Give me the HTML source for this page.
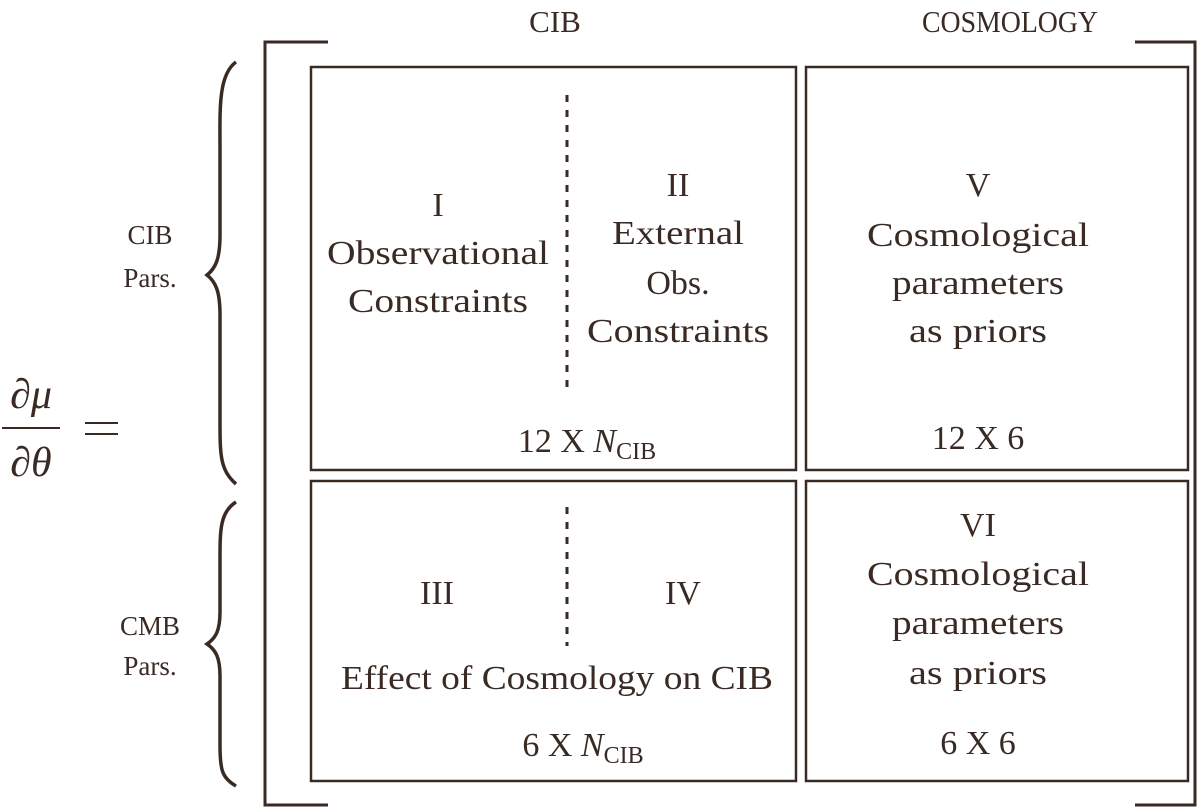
<!DOCTYPE html>
<html><head><meta charset="utf-8"><style>
html,body{margin:0;padding:0;background:#fff;}
svg{display:block;}
text{font-family:"Liberation Serif",serif;fill:#3a2a24;}
</style></head><body>
<svg width="1200" height="808" viewBox="0 0 1200 808" xmlns="http://www.w3.org/2000/svg">
<g fill="none" stroke="#3a2a24">
<path d="M328 42 H265 V805 H328" stroke-width="3"/>
<path d="M1135 42 H1195 V805 H1135" stroke-width="3"/>
<rect x="311" y="67" width="485" height="403" stroke-width="2.5"/>
<rect x="806" y="67" width="382" height="403" stroke-width="2.5"/>
<rect x="311" y="481" width="485" height="300" stroke-width="2.5"/>
<rect x="806" y="481" width="382" height="300" stroke-width="2.5"/>
<line x1="567" y1="95" x2="567" y2="388" stroke-width="3" stroke-dasharray="7,8"/>
<line x1="567" y1="507" x2="567" y2="646" stroke-width="3" stroke-dasharray="7,8"/>
<path d="M236 62 C218 75 220 110 220 150 L220 235 C220 258 216 268 207 275 C216 282 220 292 220 315 L220 420 C220 455 220 470 236 484" stroke-width="3.5"/>
<path d="M236 502 C220 512 220 530 220 560 L220 612 C220 630 216 638 207 644 C216 650 220 658 220 676 L220 745 C220 770 222 778 236 786" stroke-width="3.5"/>
<line x1="2" y1="428" x2="60" y2="428" stroke-width="2"/>
<line x1="85" y1="423" x2="118" y2="423" stroke-width="2"/>
<line x1="85" y1="434" x2="118" y2="434" stroke-width="2"/>
</g>
<text x="555" y="32" font-size="31" text-anchor="middle">CIB</text>
<text x="1010" y="32" font-size="31" text-anchor="middle" textLength="176" lengthAdjust="spacingAndGlyphs">COSMOLOGY</text>
<text x="31" y="408" font-size="42" font-style="italic" text-anchor="middle">∂μ</text>
<text x="31" y="476" font-size="42" font-style="italic" text-anchor="middle">∂θ</text>
<text x="150" y="244" font-size="27" text-anchor="middle">CIB</text>
<text x="150" y="287" font-size="27" text-anchor="middle">Pars.</text>
<text x="150" y="635" font-size="27" text-anchor="middle">CMB</text>
<text x="150" y="675" font-size="27" text-anchor="middle">Pars.</text>
<g font-size="34" text-anchor="middle">
<text x="438" y="216">I</text>
<text x="438" y="264" textLength="222" lengthAdjust="spacingAndGlyphs">Observational</text>
<text x="438" y="312" textLength="180" lengthAdjust="spacingAndGlyphs">Constraints</text>
<text x="678" y="196">II</text>
<text x="678" y="244" textLength="132" lengthAdjust="spacingAndGlyphs">External</text>
<text x="678" y="294">Obs.</text>
<text x="678" y="342" textLength="182" lengthAdjust="spacingAndGlyphs">Constraints</text>
<text x="587" y="452">12 X <tspan font-style="italic">N</tspan><tspan font-size="24" dy="7">CIB</tspan></text>
<text x="978" y="196">V</text>
<text x="978" y="246" textLength="222" lengthAdjust="spacingAndGlyphs">Cosmological</text>
<text x="978" y="294" textLength="172" lengthAdjust="spacingAndGlyphs">parameters</text>
<text x="978" y="342" textLength="138" lengthAdjust="spacingAndGlyphs">as priors</text>
<text x="978" y="449">12 X 6</text>
<text x="437" y="604">III</text>
<text x="683" y="604">IV</text>
<text x="557" y="689" textLength="432" lengthAdjust="spacingAndGlyphs">Effect of Cosmology on CIB</text>
<text x="583" y="756">6 X <tspan font-style="italic">N</tspan><tspan font-size="24" dy="7">CIB</tspan></text>
<text x="978" y="536">VI</text>
<text x="978" y="585" textLength="222" lengthAdjust="spacingAndGlyphs">Cosmological</text>
<text x="978" y="634" textLength="172" lengthAdjust="spacingAndGlyphs">parameters</text>
<text x="978" y="684" textLength="138" lengthAdjust="spacingAndGlyphs">as priors</text>
<text x="978" y="754">6 X 6</text>
</g>
</svg>
</body></html>
